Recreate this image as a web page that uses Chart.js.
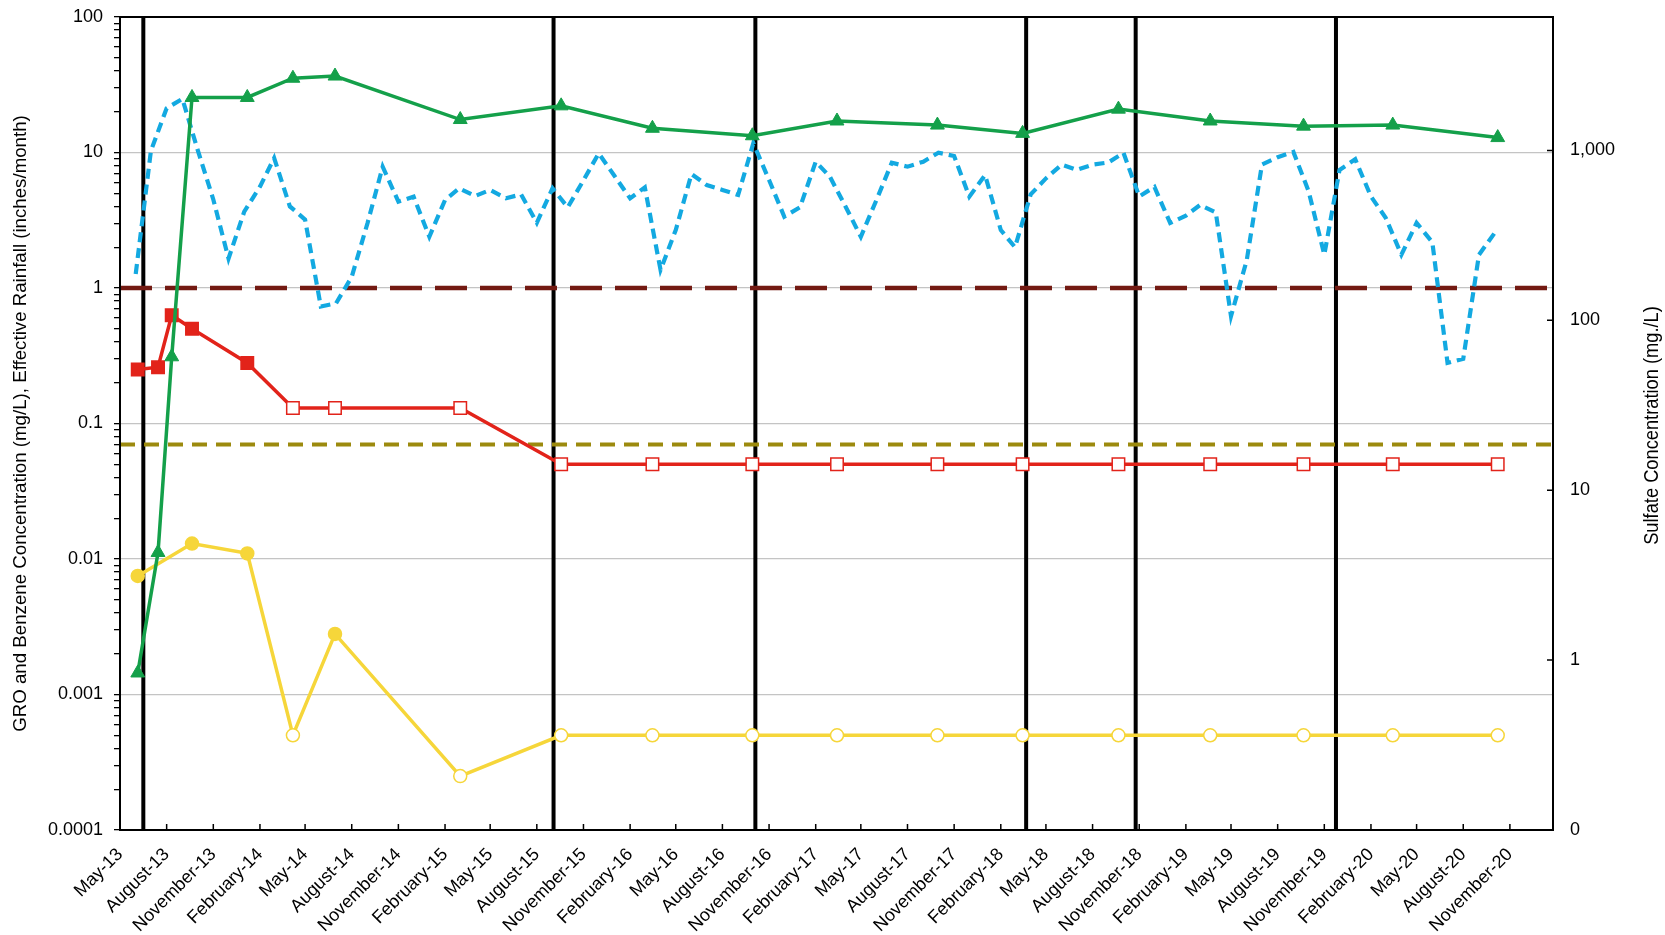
<!DOCTYPE html>
<html>
<head>
<meta charset="utf-8">
<script src="https://cdn.jsdelivr.net/npm/chart.js@4.4.1/dist/chart.umd.min.js"></script>
<style>
  html, body { margin: 0; padding: 0; background: #ffffff; }
  #wrap { width: 1665px; height: 935px; }
</style>
</head>
<body>
<div id="wrap"><canvas id="chart" width="1665" height="935"></canvas></div>
<script>
// ---- Groundwater sampling events ----
const sampleDates = ['2013-06-05','2013-07-15','2013-08-11','2013-09-20','2014-01-07','2014-04-07','2014-06-29',
  '2015-03-03','2015-09-18','2016-03-16','2016-09-29','2017-03-15','2017-09-29','2018-03-16','2018-09-21',
  '2019-03-21','2019-09-21','2020-03-15','2020-10-08'];

// GRO (mg/L); detected = 1, non-detect (reporting limit) = 0
const groValues   = [0.25, 0.26, 0.63, 0.50, 0.28, 0.13, 0.13, 0.13, 0.05, 0.05, 0.05, 0.05, 0.05, 0.05, 0.05, 0.05, 0.05, 0.05, 0.05];
const groDetected = [1, 1, 1, 1, 1, 0, 0, 0, 0, 0, 0, 0, 0, 0, 0, 0, 0, 0, 0];

// Benzene (mg/L)
const benzeneDates = ['2013-06-05','2013-09-20','2014-01-07','2014-04-07','2014-06-29','2015-03-03','2015-09-18',
  '2016-03-16','2016-09-29','2017-03-15','2017-09-29','2018-03-16','2018-09-21','2019-03-21','2019-09-21','2020-03-15','2020-10-08'];
const benzeneValues   = [0.0075, 0.013, 0.011, 0.0005, 0.0028, 0.00025, 0.0005, 0.0005, 0.0005, 0.0005, 0.0005, 0.0005, 0.0005, 0.0005, 0.0005, 0.0005, 0.0005];
const benzeneDetected = [1, 1, 1, 0, 1, 0, 0, 0, 0, 0, 0, 0, 0, 0, 0, 0, 0];

// Sulfate (mg/L), right axis
const sulfateValues = [0.84, 4.3, 61, 2050, 2050, 2660, 2740, 1520, 1830, 1350, 1220, 1490, 1410, 1260, 1750, 1490, 1390, 1410, 1190];

// Effective rainfall (inches/month), monthly from June 2013
const rainStart = '2013-06-01';
const rainValues = [
  1.27, 10.3, 21.2, 24.9, 10.5, 4.5, 1.65, 3.66, 5.6, 9.1, 4.0, 3.2,
  0.73, 0.77, 1.21, 3.0, 7.85, 4.34, 4.72, 2.39, 4.46, 5.44, 4.77, 5.29,
  4.6, 4.9, 3.03, 5.44, 3.94, 6.23, 9.86, 6.73, 4.59, 5.53, 1.36, 2.68,
  6.94, 5.75, 5.29, 4.86, 11.7, 6.27, 3.36, 3.94, 8.55, 6.63, 3.98, 2.39,
  4.48, 8.41, 7.86, 8.55, 9.97, 9.42, 4.72, 6.82, 2.68, 2.0, 4.91, 6.44,
  8.14, 7.44, 8.14, 8.44, 9.93, 4.74, 5.57, 3.02, 3.42, 4.10, 3.61, 0.62,
  1.60, 8.14, 9.24, 10.1, 5.19, 1.76, 7.44, 8.91, 4.74, 3.30, 1.76, 3.02,
  2.18, 0.28, 0.30, 1.76, 2.52
];

// Horizontal reference levels (left axis units)
const upperRefLevel = 1;
const lowerRefLevel = 0.07;

// Sulfate injection events (vertical lines)
const eventDates = ['2013-06-16','2015-09-03','2016-10-05','2018-03-23','2018-10-25','2019-11-24'];

// Axis ranges and ticks
const xStart = '2013-05-01';
const xEnd   = '2021-01-25';
const xTickDates = ['2013-05-01','2013-08-01','2013-11-01','2014-02-01','2014-05-01','2014-08-01','2014-11-01',
  '2015-02-01','2015-05-01','2015-08-01','2015-11-01','2016-02-01','2016-05-01','2016-08-01','2016-11-01',
  '2017-02-01','2017-05-01','2017-08-01','2017-11-01','2018-02-01','2018-05-01','2018-08-01','2018-11-01',
  '2019-02-01','2019-05-01','2019-08-01','2019-11-01','2020-02-01','2020-05-01','2020-08-01','2020-11-01'];
const leftTicks  = [0.0001, 0.001, 0.01, 0.1, 1, 10, 100];
const leftTickLabels = ['0.0001', '0.001', '0.01', '0.1', '1', '10', '100'];
const rightTicks = [0.1, 1, 10, 100, 1000];
const rightTickLabels = ['0', '1', '10', '100', '1,000'];
const rightMax = 6100;

const leftTitle  = 'GRO and Benzene Concentration (mg/L), Effective Rainfall (inches/month)';
const rightTitle = 'Sulfate Concentration (mg./L)';

// ---- helpers ----
const MONTH_NAMES = ['January','February','March','April','May','June','July','August','September','October','November','December'];
const toDay = s => { const [y, m, d] = s.split('-').map(Number); return Date.UTC(y, m - 1, d || 1) / 86400000; };
const monthLabel = v => { const d = new Date(Math.round(v) * 86400000); return MONTH_NAMES[d.getUTCMonth()] + '-' + String(d.getUTCFullYear()).slice(2); };
const points = (dates, vals) => dates.map((d, i) => ({ x: toDay(d), y: vals[i] }));
const rainDates = rainValues.map((_, i) => {
  const [y, m] = rainStart.split('-').map(Number);
  const t = new Date(Date.UTC(y, m - 1 + i, 1));
  return t.toISOString().slice(0, 10);
});
const isDecade = v => Math.abs(Math.log10(v) - Math.round(Math.log10(v))) < 1e-9;
const noPadding = s => { s.paddingTop = 0; s.paddingBottom = 0; s.paddingLeft = 0; s.paddingRight = 0; };

const FONT = '"Liberation Sans", Arial, Helvetica, sans-serif';
const GREEN = '#14a04a', RED = '#e2231a', YELLOW = '#f6d63a', BLUE = '#13a9e1', DARKRED = '#731a12', OLIVE = '#9c8a0e';

Chart.defaults.font.family = FONT;
Chart.defaults.color = '#000';

// frame, event lines, inside tick marks and axis titles
const decorations = {
  id: 'decorations',
  beforeDatasetsDraw(chart) {
    const { ctx, chartArea: a, scales: { x } } = chart;
    ctx.save();
    ctx.beginPath();
    ctx.rect(a.left, a.top, a.right - a.left, a.bottom - a.top);
    ctx.clip();
    ctx.strokeStyle = '#000';
    ctx.lineWidth = 4;
    eventDates.forEach(d => {
      const px = x.getPixelForValue(toDay(d));
      ctx.beginPath();
      ctx.moveTo(px, a.top);
      ctx.lineTo(px, a.bottom);
      ctx.stroke();
    });
    ctx.restore();
  },
  afterDraw(chart) {
    const { ctx, chartArea: a, scales: { x, ySul } } = chart;
    ctx.save();
    ctx.strokeStyle = '#000';
    ctx.lineWidth = 1.5;
    ctx.beginPath();
    xTickDates.forEach(d => {
      const px = x.getPixelForValue(toDay(d));
      ctx.moveTo(px, a.bottom);
      ctx.lineTo(px, a.bottom - 6);
    });
    rightTicks.forEach(v => {
      const py = ySul.getPixelForValue(v);
      ctx.moveTo(a.right, py);
      ctx.lineTo(a.right - 6, py);
    });
    ctx.stroke();
    ctx.lineWidth = 2;
    ctx.strokeRect(a.left, a.top, a.right - a.left, a.bottom - a.top);

    const midY = (a.top + a.bottom) / 2;
    ctx.fillStyle = '#000';
    ctx.textAlign = 'center';
    ctx.textBaseline = 'middle';
    ctx.save();
    ctx.translate(21, midY);
    ctx.rotate(-Math.PI / 2);
    ctx.font = '18.7px ' + FONT;
    ctx.fillText(leftTitle, 0, 0);
    ctx.restore();
    // condensed lettering for the sulfate axis title
    ctx.save();
    ctx.translate(1652, midY + 2);
    ctx.rotate(-Math.PI / 2);
    ctx.scale(0.87, 1);
    ctx.font = '21px ' + FONT;
    ctx.fillText(rightTitle, 0, 0);
    ctx.restore();
    ctx.restore();
  }
};

const fill = (flags, color) => flags.map(f => (f ? color : '#ffffff'));

new Chart(document.getElementById('chart'), {
  type: 'line',
  data: {
    datasets: [
      {
        label: 'Sulfate', yAxisID: 'ySul',
        data: points(sampleDates, sulfateValues),
        borderColor: GREEN, backgroundColor: GREEN, borderWidth: 3.5,
        pointStyle: 'triangle', pointRadius: 8, pointBorderWidth: 1,
        pointBackgroundColor: GREEN, pointBorderColor: GREEN
      },
      {
        label: 'GRO', yAxisID: 'y',
        data: points(sampleDates, groValues),
        borderColor: RED, borderWidth: 3.5,
        pointStyle: 'rect', pointRadius: 8.8, pointBorderWidth: 1.5,
        pointBackgroundColor: fill(groDetected, RED), pointBorderColor: RED
      },
      {
        label: 'Benzene', yAxisID: 'y',
        data: points(benzeneDates, benzeneValues),
        borderColor: YELLOW, borderWidth: 3.5,
        pointStyle: 'circle', pointRadius: 6.5, pointBorderWidth: 1.5,
        pointBackgroundColor: fill(benzeneDetected, YELLOW), pointBorderColor: YELLOW
      },
      {
        label: 'Effective Rainfall', yAxisID: 'y',
        data: points(rainDates, rainValues),
        borderColor: BLUE, borderWidth: 4.2, borderDash: [10, 6],
        pointRadius: 0
      },
      {
        label: 'Upper reference', yAxisID: 'y',
        data: [{ x: toDay(xStart), y: upperRefLevel }, { x: toDay(xEnd), y: upperRefLevel }],
        borderColor: DARKRED, borderWidth: 4.5, borderDash: [32, 13], pointRadius: 0
      },
      {
        label: 'Lower reference', yAxisID: 'y',
        data: [{ x: toDay(xStart), y: lowerRefLevel }, { x: toDay(xEnd), y: lowerRefLevel }],
        borderColor: OLIVE, borderWidth: 4, borderDash: [15, 9], pointRadius: 0
      }
    ]
  },
  options: {
    responsive: false,
    animation: false,
    events: [],
    layout: { padding: { top: 17, left: 0, right: 0, bottom: 0 } },
    elements: { line: { tension: 0 } },
    plugins: { legend: { display: false }, tooltip: { enabled: false } },
    scales: {
      x: {
        type: 'linear',
        min: toDay(xStart), max: toDay(xEnd),
        afterBuildTicks: s => { s.ticks = xTickDates.map(d => ({ value: toDay(d) })); },
        afterFit: s => { s.height = 105; noPadding(s); },
        grid: { display: false },
        border: { display: false },
        ticks: {
          autoSkip: false, minRotation: 45, maxRotation: 45, padding: 6,
          font: { size: 18 }, color: '#000',
          callback: v => monthLabel(v)
        }
      },
      y: {
        type: 'logarithmic', position: 'left',
        min: 0.0001, max: 100,
        afterBuildTicks: s => {
          const t = [];
          for (let e = -4; e <= 2; e++) {
            for (let k = 1; k <= 9; k++) {
              const v = Number((k * Math.pow(10, e)).toPrecision(6));
              if (v <= 100) t.push({ value: v });
            }
          }
          s.ticks = t;
        },
        afterFit: s => { s.width = 120; noPadding(s); },
        grid: {
          color: c => (c.tick && isDecade(c.tick.value) ? '#c4c4c4' : 'rgba(0,0,0,0)'),
          tickColor: '#000', tickLength: 6, lineWidth: 1.3, tickWidth: 1.3
        },
        border: { display: false },
        ticks: {
          autoSkip: false, padding: 11, font: { size: 18 }, color: '#000',
          callback: v => { const i = leftTicks.findIndex(t => Math.abs(t - v) / t < 1e-6); return i >= 0 ? leftTickLabels[i] : ''; }
        }
      },
      ySul: {
        type: 'logarithmic', position: 'right',
        min: 0.1, max: rightMax,
        afterBuildTicks: s => { s.ticks = rightTicks.map(v => ({ value: v })); },
        afterFit: s => { s.width = 112; noPadding(s); },
        grid: { drawOnChartArea: false, drawTicks: false },
        border: { display: false },
        ticks: {
          autoSkip: false, padding: 17, font: { size: 18 }, color: '#000',
          callback: v => { const i = rightTicks.findIndex(t => Math.abs(t - v) / t < 1e-6); return i >= 0 ? rightTickLabels[i] : ''; }
        }
      }
    }
  },
  plugins: [decorations]
});
</script>
</body>
</html>
